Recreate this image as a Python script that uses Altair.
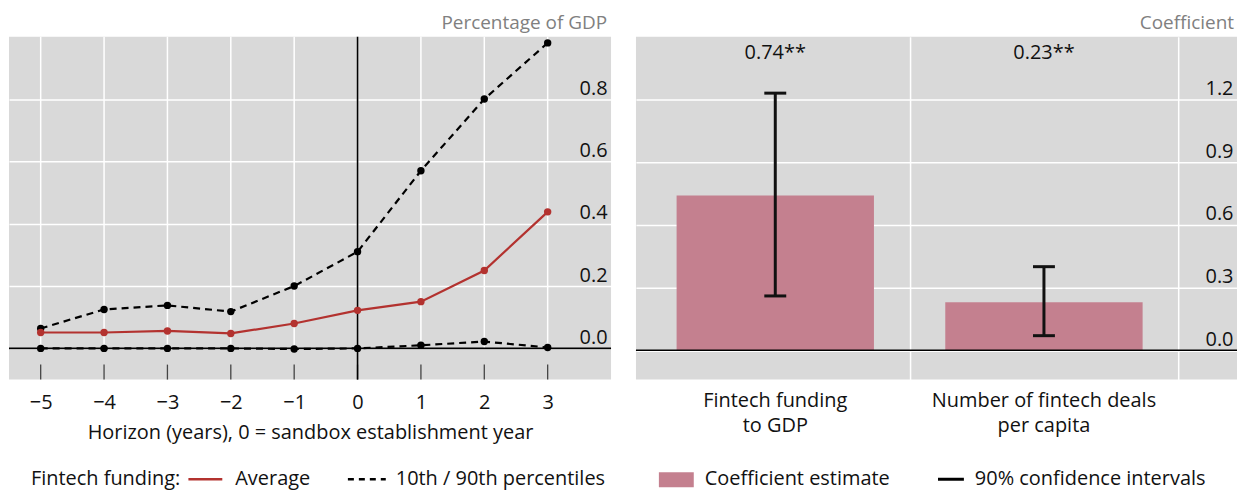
import altair as alt
import pandas as pd

# ---------------- data ----------------
horizon = [-5, -4, -3, -2, -1, 0, 1, 2, 3]
average = [0.051, 0.051, 0.056, 0.048, 0.080, 0.122, 0.150, 0.250, 0.438]
p90 = [0.064, 0.125, 0.138, 0.118, 0.200, 0.310, 0.570, 0.800, 0.980]
p10 = [0.000, 0.000, 0.000, 0.000, -0.002, 0.000, 0.010, 0.022, 0.003]

categories = ["Fintech funding\nto GDP", "Number of fintech deals\nper capita"]
coef = [0.74, 0.23]
ci_low = [0.26, 0.07]
ci_high = [1.23, 0.40]
coef_labels = ["0.74**", "0.23**"]

left_yticks = [0.0, 0.2, 0.4, 0.6, 0.8]
right_yticks = [0.0, 0.3, 0.6, 0.9, 1.2]

FONT = "Open Sans"
FS = 20
FS_T = 19
TXT = "#111111"
RED = "#B3322F"
PINK = "#C4808F"
GRID = "#FFFFFF"

W_L, W_R, H = 604, 603, 344

df_left = pd.DataFrame({"h": horizon, "avg": average, "p90": p90, "p10": p10})
df_right = pd.DataFrame({
    "cat": categories,
    "pos": [i + 0.5 for i in range(len(categories))],
    "coef": coef, "lo": ci_low, "hi": ci_high, "lab": coef_labels,
})


def one(text=""):
    return pd.DataFrame({"t": [text]})


# ---------------- left panel ----------------
xs = alt.Scale(domain=[-5.5, 4], nice=False, zero=False)
ys = alt.Scale(domain=[-0.1, 1.0], nice=False, zero=False)
x_axis = alt.Axis(values=horizon, grid=False, domain=False, ticks=False,
                  labelPadding=13, labelFontSize=FS, labelFont=FONT, labelColor=TXT,
                  title="Horizon (years), 0 = sandbox establishment year",
                  titleFontSize=FS, titleFont=FONT, titleFontWeight="normal",
                  titleColor=TXT, titlePadding=10)
y_axis = alt.Axis(orient="right", values=left_yticks, grid=True, gridColor=GRID,
                  gridWidth=1.5, domain=False, ticks=False, labelAlign="right",
                  labelBaseline="bottom", labelPadding=-4, labelOffset=-1,
                  labelFontSize=FS, labelFont=FONT, labelColor=TXT, format=".1f",
                  title=None)

X = lambda f: alt.X(f, type="quantitative", scale=xs, axis=x_axis)
Y = lambda f: alt.Y(f, type="quantitative", scale=ys, axis=y_axis)

vgrid = alt.Chart(df_left).mark_rule(color=GRID, strokeWidth=1.5).encode(
    x=X("h"), y=alt.Y(datum=0.0, scale=ys, axis=y_axis), y2=alt.Y2(datum=1.0))
ticks = alt.Chart(df_left).mark_rule(color="#444444", strokeWidth=1.3).encode(
    x=X("h"), y=alt.Y(datum=-0.1, scale=ys, axis=y_axis), y2=alt.Y2(datum=-0.052))
zero_h = alt.Chart(one()).mark_rule(color="black", strokeWidth=1.6).encode(
    y=alt.Y(datum=0.0, scale=ys, axis=y_axis))
zero_v = alt.Chart(one()).mark_rule(color="black", strokeWidth=1.6).encode(
    x=alt.X(datum=0, scale=xs, axis=x_axis))


def series(field, color, dash):
    kw = dict(color=color, strokeWidth=2.2)
    if dash:
        kw["strokeDash"] = [7, 5]
    line = alt.Chart(df_left).mark_line(**kw).encode(x=X("h"), y=Y(field))
    pts = alt.Chart(df_left).mark_circle(color=color, size=55, opacity=1).encode(
        x=X("h"), y=Y(field))
    return line + pts


bound_top = alt.Chart(one()).mark_rule(opacity=0).encode(
    x=alt.value(0), y=alt.value(-28), y2=alt.value(-27))
title_l = alt.Chart(one("Percentage of GDP")).mark_text(
    align="right", baseline="middle", font=FONT, fontSize=FS_T, color="#808080").encode(
    x=alt.value(W_L - 4), y=alt.value(-14), text="t:N")

LEG_Y = 444
leg_l = [
    alt.Chart(one("Fintech funding:")).mark_text(align="left", baseline="middle", font=FONT,
        fontSize=FS, color=TXT).encode(x=alt.value(22), y=alt.value(LEG_Y), text="t:N"),
    alt.Chart(one()).mark_rule(color=RED, strokeWidth=2.5).encode(
        x=alt.value(180), x2=alt.value(214), y=alt.value(LEG_Y)),
    alt.Chart(one("Average")).mark_text(align="left", baseline="middle", font=FONT,
        fontSize=FS, color=TXT).encode(x=alt.value(227), y=alt.value(LEG_Y), text="t:N"),
    alt.Chart(one()).mark_rule(color="black", strokeWidth=2.5, strokeDash=[6, 5]).encode(
        x=alt.value(340), x2=alt.value(378), y=alt.value(LEG_Y)),
    alt.Chart(one("10th / 90th percentiles")).mark_text(align="left", baseline="middle",
        font=FONT, fontSize=FS, color=TXT).encode(x=alt.value(388), y=alt.value(LEG_Y), text="t:N"),
]

left = alt.layer(
    vgrid, ticks, zero_h, zero_v,
    series("p10", "black", True), series("p90", "black", True), series("avg", RED, False),
    bound_top, title_l, *leg_l,
).properties(width=W_L, height=H)

# ---------------- right panel ----------------
xs2 = alt.Scale(domain=[0, 2.2], nice=False, zero=False)
ys2 = alt.Scale(domain=[-0.14, 1.5], nice=False, zero=False)
x_axis2 = alt.Axis(values=[1, 2], grid=True, gridColor=GRID, gridWidth=1.5,
                   labels=False, ticks=False, domain=False, title=None)
y_axis2 = alt.Axis(orient="right", values=right_yticks, grid=True, gridColor=GRID,
                   gridWidth=1.5, domain=False, ticks=False, labelAlign="right",
                   labelBaseline="bottom", labelPadding=-4, labelOffset=-1,
                   labelFontSize=FS, labelFont=FONT, labelColor=TXT, format=".1f",
                   title=None)
X2 = lambda f: alt.X(f, type="quantitative", scale=xs2, axis=x_axis2)
Y2s = lambda f: alt.Y(f, type="quantitative", scale=ys2, axis=y_axis2)

bars = alt.Chart(df_right).mark_bar(color=PINK, size=198).encode(x=X2("pos"), y=Y2s("coef"))
zero_h2 = alt.Chart(one()).mark_rule(color="black", strokeWidth=1.6).encode(
    y=alt.Y(datum=0.0, scale=ys2, axis=y_axis2))
err = alt.Chart(df_right).mark_rule(color="#111111", strokeWidth=3).encode(
    x=X2("pos"), y=Y2s("lo"), y2="hi")
cap_lo = alt.Chart(df_right).mark_tick(orient="horizontal", color="#111111", size=22,
                                       thickness=3, opacity=1).encode(x=X2("pos"), y=Y2s("lo"))
cap_hi = alt.Chart(df_right).mark_tick(orient="horizontal", color="#111111", size=22,
                                       thickness=3, opacity=1).encode(x=X2("pos"), y=Y2s("hi"))
annot = alt.Chart(df_right).mark_text(baseline="middle", font=FONT, fontSize=FS,
                                      color=TXT).encode(x=X2("pos"), y=alt.value(16), text="lab:N")
catlab = alt.Chart(df_right).mark_text(baseline="alphabetic", font=FONT, fontSize=FS,
                                       color=TXT, lineBreak="\n", lineHeight=25).encode(
    x=X2("pos"), y=alt.value(372), text="cat:N")
title_r = alt.Chart(one("Coefficient")).mark_text(
    align="right", baseline="middle", font=FONT, fontSize=FS_T, color="#808080").encode(
    x=alt.value(W_R - 3), y=alt.value(-14), text="t:N")

leg_r = [
    alt.Chart(one()).mark_rect(color=PINK).encode(
        x=alt.value(23), x2=alt.value(58), y=alt.value(LEG_Y - 7), y2=alt.value(LEG_Y + 8)),
    alt.Chart(one("Coefficient estimate")).mark_text(align="left", baseline="middle", font=FONT,
        fontSize=FS, color=TXT).encode(x=alt.value(69), y=alt.value(LEG_Y), text="t:N"),
    alt.Chart(one()).mark_rule(color="black", strokeWidth=3).encode(
        x=alt.value(303), x2=alt.value(329), y=alt.value(LEG_Y)),
    alt.Chart(one("90% confidence intervals")).mark_text(align="left", baseline="middle",
        font=FONT, fontSize=FS, color=TXT).encode(x=alt.value(340), y=alt.value(LEG_Y), text="t:N"),
]

right = alt.layer(
    bars, zero_h2, err, cap_lo, cap_hi, annot, catlab, title_r, *leg_r
).properties(width=W_R, height=H)

chart = alt.hconcat(left, right, spacing=25, bounds="flush").configure_view(
    fill="#D9D9D9", stroke=None
).properties(padding={"left": 0, "top": 0, "right": 0, "bottom": 0}, background="white")

chart.save("out.html", embed_options={"renderer": "svg", "actions": False})
